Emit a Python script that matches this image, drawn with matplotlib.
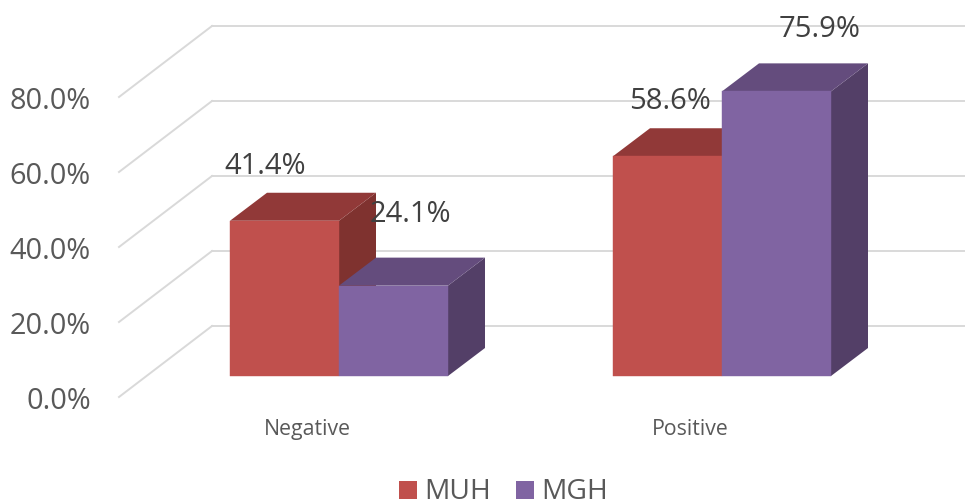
import matplotlib
matplotlib.use("Agg")
import matplotlib.pyplot as plt
from matplotlib.patches import Polygon, Rectangle

categories = ["Negative", "Positive"]
series_names = ["MUH", "MGH"]
muh_values = [41.4, 58.6]
mgh_values = [24.1, 75.9]
y_ticks = [0, 20, 40, 60, 80]

# colours of the 3 faces: front, top, side
muh_colors = ["#C0504D", "#913938", "#7F322F"]
mgh_colors = ["#8064A2", "#644C7D", "#533F67"]
grid_color = "#D9D9D9"
text_color = "#404040"
label_color = "#595959"

plt.rcParams["font.family"] = ["Open Sans", "DejaVu Sans"]

# sizes in axis units, 383 px per category, 3.75 px per percent
bar_w = 109 / 383
depth_x = 37 / 383
depth_y = 28 / 3.75
wall_x = -127 / 383
wall_y = 50 / 3.75
front_x = -220 / 383
front_y = -21 / 3.75


def bar3d(ax, left, height, colors):
    right = left + bar_w
    ax.add_patch(Polygon([(right, 0), (right + depth_x, depth_y), (right + depth_x, height + depth_y),
                          (right, height)], fc=colors[2], ec="none", zorder=3))
    ax.add_patch(Polygon([(left, height), (right, height), (right + depth_x, height + depth_y),
                          (left + depth_x, height + depth_y)], fc=colors[1], ec="none", zorder=3))
    ax.add_patch(Rectangle((left, 0), bar_w, height, fc=colors[0], ec=colors[0], lw=0.3, zorder=4))


fig = plt.figure(figsize=(9.65, 5), dpi=100)
ax = fig.add_axes([0, 0, 1, 1])
ax.set_xlim(-339 / 383, 626 / 383)
ax.set_ylim(-124 / 3.75, 376 / 3.75)
ax.axis("off")

# walls
for t in y_ticks:
    ax.plot([wall_x, 626 / 383], [t + wall_y, t + wall_y], color=grid_color, lw=1.4, zorder=1)
    ax.plot([front_x, wall_x], [t + front_y, t + wall_y], color=grid_color, lw=1.4, zorder=1)
    ax.text(-248 / 383, t + front_y - 1.1, "%.1f%%" % t, ha="right", va="center", fontsize=20.8,
            color=label_color)

for i, cat in enumerate(categories):
    bar3d(ax, i - bar_w, muh_values[i], muh_colors)
    bar3d(ax, i, mgh_values[i], mgh_colors)
    ax.text(i - 32 / 383, -14.2, cat, ha="center", va="center", fontsize=15.3, color=label_color)

# value labels, offset by hand like in the original
muh_label_x = [-74 / 383, 1 - 52 / 383]
muh_label_y = [56, 73.2]
mgh_label_x = [71 / 383, 1 + 98 / 383]
mgh_label_y = [43, 92.3]
for v, x, y in zip(muh_values + mgh_values, muh_label_x + mgh_label_x, muh_label_y + mgh_label_y):
    ax.text(x, y, "%.1f%%" % v, ha="center", va="center", fontsize=21, color=text_color, zorder=5)

# legend
for x0, name, col in zip([60 / 383, 177 / 383], series_names, [muh_colors[0], mgh_colors[0]]):
    ax.add_patch(Rectangle((x0, -32.8), 18 / 383, 18 / 3.75, fc=col, ec="none"))
    ax.text(x0 + 25 / 383, -31, name, ha="left", va="center", fontsize=20.3, color=label_color)

fig.savefig("out.png", dpi=100)
